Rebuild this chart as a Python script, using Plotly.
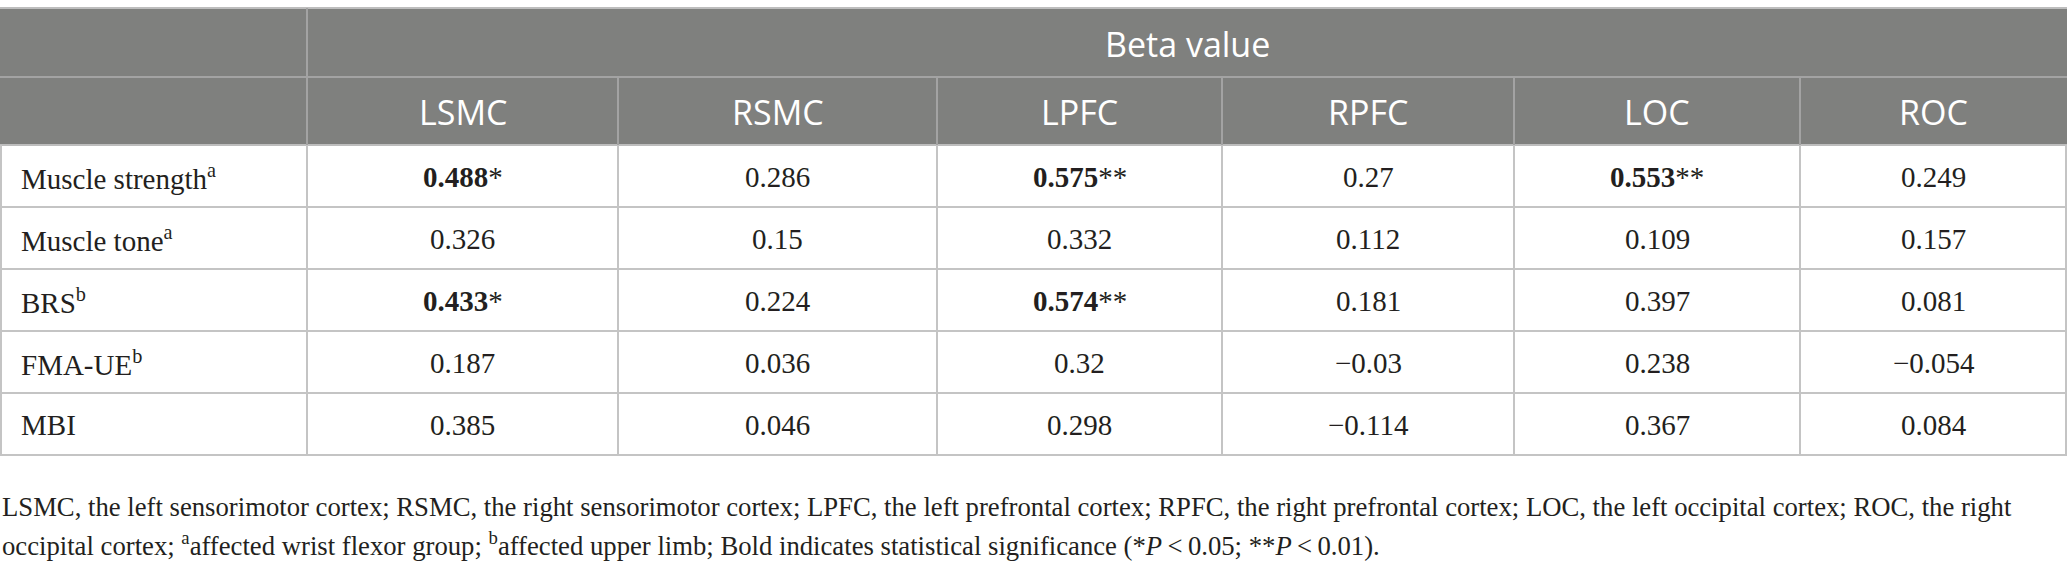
import plotly.graph_objects as go

# Table content
row_labels = ["Muscle strength<sup>a</sup>", "Muscle tone<sup>a</sup>", "BRS<sup>b</sup>",
              "FMA-UE<sup>b</sup>", "MBI"]
regions = ["LSMC", "RSMC", "LPFC", "RPFC", "LOC", "ROC"]

lsmc = [0.488, 0.326, 0.433, 0.187, 0.385]
rsmc = [0.286, 0.15, 0.224, 0.036, 0.046]
lpfc = [0.575, 0.332, 0.574, 0.32, 0.298]
rpfc = [0.27, 0.112, 0.181, -0.03, -0.114]
loc = [0.553, 0.109, 0.397, 0.238, 0.367]
roc = [0.249, 0.157, 0.081, -0.054, 0.084]

# significance stars per column ("" = not significant)
lsmc_sig = ["*", "", "*", "", ""]
rsmc_sig = ["", "", "", "", ""]
lpfc_sig = ["**", "", "**", "", ""]
rpfc_sig = ["", "", "", "", ""]
loc_sig = ["**", "", "", "", ""]
roc_sig = ["", "", "", "", ""]

group_title = "Beta value"
footnote_1 = ("LSMC, the left sensorimotor cortex; RSMC, the right sensorimotor cortex; "
              "LPFC, the left prefrontal cortex; RPFC, the right prefrontal cortex; "
              "LOC, the left occipital cortex; ROC, the right")
footnote_2 = ("occipital cortex; <sup>a</sup>affected wrist flexor group; "
              "<sup>b</sup>affected upper limb; Bold indicates statistical significance "
              "(*<i>P</i>\u2009&lt;\u20090.05; **<i>P</i>\u2009&lt;\u20090.01).")

columns = [lsmc, rsmc, lpfc, rpfc, loc, roc]
sigs = [lsmc_sig, rsmc_sig, lpfc_sig, rpfc_sig, loc_sig, roc_sig]

# Layout geometry (pixels)
W, H = 2067, 576
col_edges = [0, 307, 618, 937, 1222, 1514, 1800, 2067]
top = 8
head1_bot = 77
head2_bot = 145
row_h = 62

HEAD_BG = "#7f807e"
HEAD_LINE = "#a3a3a3"
BODY_LINE = "#c4c4c4"
TXT = "#231f20"
SANS = "'Open Sans', 'Noto Sans', sans-serif"
SERIF = "'Liberation Serif', 'DejaVu Serif', serif"


def fmt(v):
    s = str(v)
    return s.replace("-", "\u2212")


fig = go.Figure()

# header background
fig.add_shape(type="rect", x0=0, x1=W, y0=top, y1=head2_bot, xref="x", yref="y",
              fillcolor=HEAD_BG, line=dict(width=0), layer="below")

n_rows = len(row_labels)
body_bot = head2_bot + n_rows * row_h

# horizontal lines
fig.add_shape(type="line", x0=0, x1=W, y0=top, y1=top, line=dict(color="#bdbdbd", width=2))
fig.add_shape(type="line", x0=0, x1=W, y0=head1_bot, y1=head1_bot, line=dict(color=HEAD_LINE, width=2))
fig.add_shape(type="line", x0=0, x1=W, y0=head2_bot, y1=head2_bot, line=dict(color="#bdbdbd", width=2))
for i in range(1, n_rows + 1):
    y = head2_bot + i * row_h
    fig.add_shape(type="line", x0=0, x1=W, y0=y, y1=y, line=dict(color=BODY_LINE, width=2))

# vertical lines
fig.add_shape(type="line", x0=col_edges[1], x1=col_edges[1], y0=top, y1=head1_bot,
              line=dict(color=HEAD_LINE, width=2))
for x in col_edges[1:-1]:
    fig.add_shape(type="line", x0=x, x1=x, y0=head1_bot, y1=head2_bot,
                  line=dict(color=HEAD_LINE, width=2))
    fig.add_shape(type="line", x0=x, x1=x, y0=head2_bot, y1=body_bot,
                  line=dict(color=BODY_LINE, width=2))
for x in [col_edges[0] + 1, col_edges[-1] - 1]:
    fig.add_shape(type="line", x0=x, x1=x, y0=head2_bot, y1=body_bot,
                  line=dict(color=BODY_LINE, width=2))

# header text
fig.add_annotation(x=(col_edges[1] + col_edges[-1]) / 2, y=(top + head1_bot) / 2 + 1,
                   text=group_title, showarrow=False,
                   font=dict(family=SANS, size=34, color="white"))
for j, name in enumerate(regions):
    cx = (col_edges[j + 1] + col_edges[j + 2]) / 2
    fig.add_annotation(x=cx, y=(head1_bot + head2_bot) / 2 + 1, text=name, showarrow=False,
                       font=dict(family=SANS, size=34, color="white"))

# body text
for i, lab in enumerate(row_labels):
    cy = head2_bot + i * row_h + row_h / 2 + 1
    fig.add_annotation(x=19, y=cy, text=lab, showarrow=False, xanchor="left",
                       font=dict(family=SERIF, size=29, color=TXT))
    for j in range(len(regions)):
        cx = (col_edges[j + 1] + col_edges[j + 2]) / 2
        v = fmt(columns[j][i])
        star = sigs[j][i]
        txt = f"<b>{v}</b>{star}" if star else v
        fig.add_annotation(x=cx, y=cy, text=txt, showarrow=False,
                           font=dict(family=SERIF, size=29, color=TXT))

# footnote
fig.add_annotation(x=0, y=507, text=footnote_1, showarrow=False, xanchor="left",
                   font=dict(family=SERIF, size=26.7, color=TXT))
fig.add_annotation(x=0, y=544, text=footnote_2, showarrow=False, xanchor="left",
                   font=dict(family=SERIF, size=26.7, color=TXT))

fig.update_layout(
    width=W, height=H,
    margin=dict(l=0, r=0, t=0, b=0),
    paper_bgcolor="white", plot_bgcolor="white",
    xaxis=dict(range=[0, W], visible=False, fixedrange=True),
    yaxis=dict(range=[H, 0], visible=False, fixedrange=True),
    showlegend=False,
)

# page body has a default 8px margin; drop it so the figure sits at the window corner
fig.write_html("out.html", config={"displayModeBar": False},
               post_script="document.body.style.margin='0px';")
